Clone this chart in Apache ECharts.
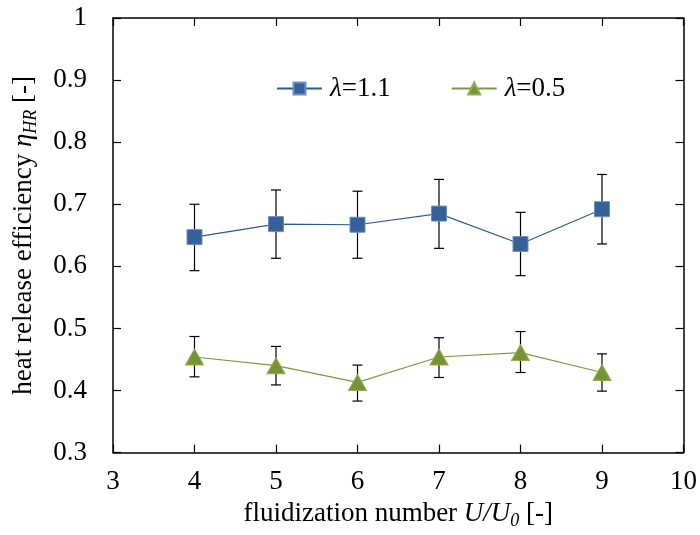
<!DOCTYPE html>
<html><head><meta charset="utf-8">
<script src="https://cdn.jsdelivr.net/npm/echarts@6/dist/echarts.min.js"></script>
<style>html,body{margin:0;padding:0;background:#fff}#c{width:700px;height:535px}</style>
</head><body><div id="c"></div>
<script>
var xVals = [4, 5, 6, 7, 8, 9];
var lam11 = [0.647, 0.668, 0.667, 0.685, 0.636, 0.692];
var lam11Lo = [0.593, 0.613, 0.613, 0.629, 0.585, 0.636];
var lam11Hi = [0.700, 0.723, 0.721, 0.740, 0.687, 0.748];
var lam05 = [0.454, 0.440, 0.413, 0.454, 0.461, 0.429];
var lam05Lo = [0.422, 0.409, 0.383, 0.421, 0.429, 0.399];
var lam05Hi = [0.487, 0.471, 0.441, 0.485, 0.495, 0.459];
var xTicks = [3, 4, 5, 6, 7, 8, 9, 10];
var yTicks = [0.3, 0.4, 0.5, 0.6, 0.7, 0.8, 0.9, 1];

var FONT = '"Liberation Serif", "Times New Roman", serif';
var FS = 27;
var chart = echarts.init(document.getElementById('c'), null, {renderer: 'canvas'});

function pairs(xs, ys) { return xs.map(function (x, i) { return [x, ys[i]]; }); }
function errData(xs, lo, hi) { return xs.map(function (x, i) { return [x, lo[i], hi[i]]; }); }

function errRender(params, api) {
  var x = api.value(0);
  var lo = api.coord([x, api.value(1)]);
  var hi = api.coord([x, api.value(2)]);
  var w = 5;
  var st = {stroke: '#000', lineWidth: 1.2};
  return {
    type: 'group',
    children: [
      {type: 'line', shape: {x1: lo[0], y1: lo[1], x2: hi[0], y2: hi[1]}, style: st},
      {type: 'line', shape: {x1: lo[0] - w, y1: lo[1], x2: lo[0] + w, y2: lo[1]}, style: st},
      {type: 'line', shape: {x1: hi[0] - w, y1: hi[1], x2: hi[0] + w, y2: hi[1]}, style: st}
    ]
  };
}

var axisLine = {show: true, lineStyle: {color: '#000', width: 1.5}};
var tick = {show: true, inside: true, length: 8, lineStyle: {color: '#000', width: 1.2}};
var nameRich = {
  n: {fontFamily: FONT, fontSize: FS, color: '#000'},
  i: {fontFamily: FONT, fontSize: FS, color: '#000', fontStyle: 'italic'},
  s: {fontFamily: FONT, fontSize: 18, color: '#000', fontStyle: 'italic', padding: [14, 0, 0, 0]}
};

var option = {
  animation: false,
  backgroundColor: '#fff',
  grid: {left: 113, right: 14, top: 18, bottom: 79, containLabel: false},
  legend: {
    left: 271, top: 70, itemGap: 60, itemWidth: 45, itemHeight: 15,
    data: ['l11', 'l05'],
    formatter: function (n) { return n === 'l11' ? '{i|λ}=1.1' : '{i|λ}=0.5'; },
    textStyle: {fontFamily: FONT, fontSize: FS, color: '#000', padding: [0, 0, 0, 3],
      rich: {i: {fontFamily: FONT, fontStyle: 'italic', fontSize: FS, color: '#000'}}}
  },
  xAxis: [{
    type: 'value', min: 3, max: 10, interval: 1, position: 'bottom',
    axisLine: axisLine, axisTick: tick, splitLine: {show: false},
    axisLabel: {fontFamily: FONT, fontSize: FS, color: '#000', margin: 16,
      formatter: function (v) { return xTicks.indexOf(v) >= 0 ? String(v) : ''; }},
    name: '{n|fluidization number }{i|U/U}{s|0}{n| [-]}',
    nameLocation: 'middle', nameGap: 44,
    nameTextStyle: {rich: nameRich}
  }, {
    type: 'value', min: 3, max: 10, interval: 1, position: 'top',
    axisLine: axisLine, axisTick: tick, axisLabel: {show: false}, splitLine: {show: false}
  }],
  yAxis: [{
    type: 'value', min: 0.3, max: 1, interval: 0.1, position: 'left',
    axisLine: axisLine, axisTick: tick, splitLine: {show: false},
    axisLabel: {fontFamily: FONT, fontSize: FS, color: '#000', margin: 26,
      formatter: function (v) { var r = Math.round(v * 10) / 10; return yTicks.indexOf(r) >= 0 ? String(r) : ''; }},
    name: '{n|heat release efficiency }{i|η}{s|HR}{n| [-]}',
    nameLocation: 'middle', nameGap: 73, nameRotate: 90,
    nameTextStyle: {rich: nameRich}
  }, {
    type: 'value', min: 0.3, max: 1, interval: 0.1, position: 'right',
    axisLine: axisLine, axisTick: tick, axisLabel: {show: false}, splitLine: {show: false}
  }],
  series: [
    {type: 'custom', name: 'e11', renderItem: errRender, data: errData(xVals, lam11Lo, lam11Hi), z: 2, silent: true},
    {type: 'custom', name: 'e05', renderItem: errRender, data: errData(xVals, lam05Lo, lam05Hi), z: 2, silent: true},
    {type: 'line', name: 'l11', data: pairs(xVals, lam11), z: 5,
      symbol: 'rect', symbolSize: 15,
      lineStyle: {color: '#2f5a8c', width: 1.2},
      itemStyle: {color: '#35609a', borderColor: '#6d8fbd', borderWidth: 1}},
    {type: 'line', name: 'l05', data: pairs(xVals, lam05), z: 5,
      symbol: 'triangle', symbolSize: [18, 16],
      lineStyle: {color: '#7a9a40', width: 1.2},
      itemStyle: {color: '#779433', borderColor: '#8fab55', borderWidth: 1}}
  ]
};
chart.setOption(option);
</script></body></html>
